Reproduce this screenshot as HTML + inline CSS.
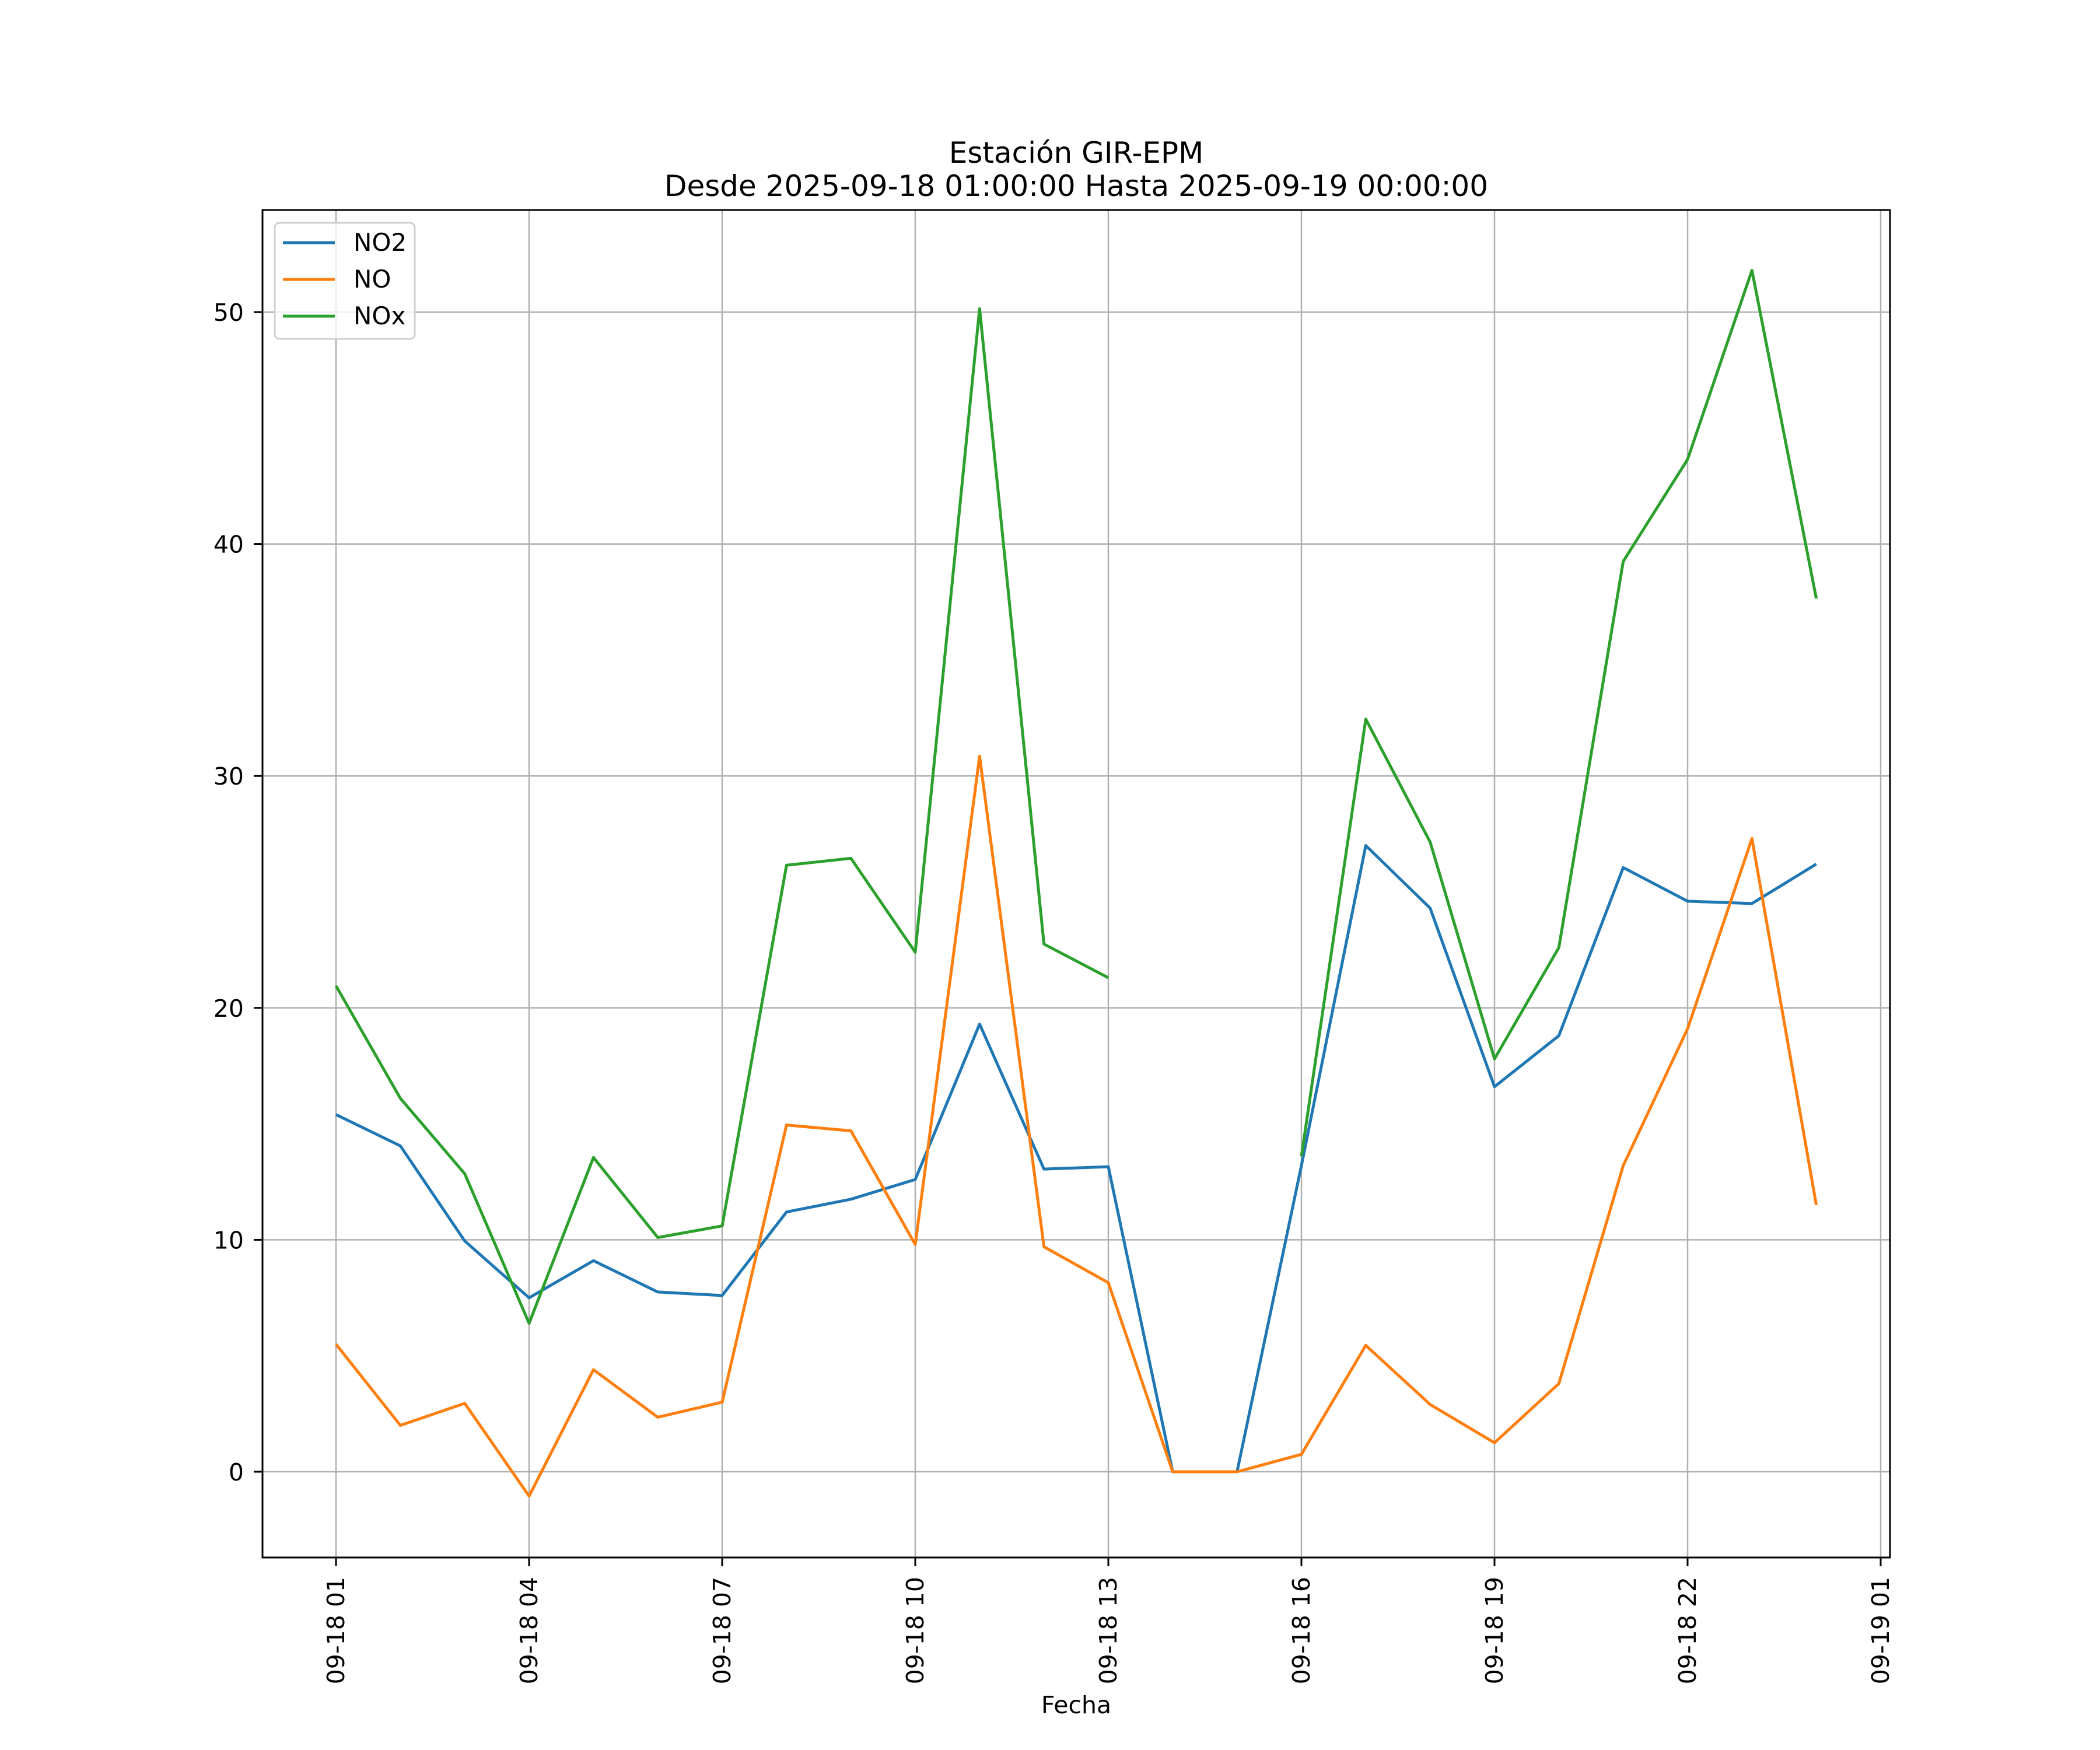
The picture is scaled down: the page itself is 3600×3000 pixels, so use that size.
<!DOCTYPE html>
<html><head><meta charset="utf-8"><style>
html,body{margin:0;padding:0;background:#fff;}
svg{display:block;font-family:"DejaVu Sans","Liberation Sans",sans-serif;}
</style></head><body>
<svg id="chart" width="3600" height="3000" viewBox="0 0 3600 3000" xmlns="http://www.w3.org/2000/svg">
<rect width="3600" height="3000" fill="#fff"/>
<text x="1845" y="279" font-size="50" text-anchor="middle">Estación GIR-EPM</text>
<text x="1845" y="336" font-size="50" text-anchor="middle">Desde 2025-09-18 01:00:00 Hasta 2025-09-19 00:00:00</text>
<g id="grid"></g>
<g id="series"></g>
<rect x="450" y="360" width="2790" height="2310" fill="none" stroke="#000" stroke-width="3"/>
<g id="axes"></g>
<text x="1845" y="2937" font-size="41" text-anchor="middle">Fecha</text>
<g>
<rect x="471" y="382" width="240" height="199" rx="8" fill="#fff" fill-opacity="0.8" stroke="#d0d0d0" stroke-width="3"/>
<g><line x1="485" y1="416" x2="574" y2="416" stroke="#1f77b4" stroke-width="5"/><text x="606" y="430" font-size="42">NO2</text></g>
<g><line x1="485" y1="479" x2="574" y2="479" stroke="#ff7f0e" stroke-width="5"/><text x="606" y="493" font-size="42">NO</text></g>
<g><line x1="485" y1="542" x2="574" y2="542" stroke="#2ca02c" stroke-width="5"/><text x="606" y="556" font-size="42">NOx</text></g>
</g>
</svg>
<script>
const hours = [1,2,3,4,5,6,7,8,9,10,11,12,13,14,15,16,17,18,19,20,21,22,23,24];
const no2 = [15.4,14.05,9.95,7.5,9.1,7.75,7.6,11.2,11.75,12.6,19.3,13.05,13.15,0,0,13.2,27.0,24.3,16.6,18.8,26.05,24.6,24.5,26.2];
const no = [5.5,2.0,2.95,-1.05,4.4,2.35,3.0,14.95,14.7,9.8,30.85,9.7,8.15,0,0,0.75,5.45,2.9,1.25,3.8,13.2,19.1,27.3,11.5];
const nox = [20.95,16.1,12.85,6.4,13.55,10.1,10.6,26.15,26.45,22.4,50.15,22.75,21.3,null,null,13.6,32.45,27.15,17.8,22.6,39.25,43.65,51.8,37.65];
const yTicks = [0,10,20,30,40,50];
const xTickHours = [1,4,7,10,13,16,19,22,25];
const xTickLabels = ["09-18 01","09-18 04","09-18 07","09-18 10","09-18 13","09-18 16","09-18 19","09-18 22","09-19 01"];

const NS="http://www.w3.org/2000/svg";
const X = h => 576 + (h-1)*(3224-576)/24;
const Y = v => 2523 - v*(2523-535)/50;
function mk(tag, attrs, parent){const e=document.createElementNS(NS,tag);for(const k in attrs)e.setAttribute(k,attrs[k]);parent.appendChild(e);return e;}
const grid=document.getElementById('grid'), axes=document.getElementById('axes'), series=document.getElementById('series');
yTicks.forEach(v=>{
  const g=mk('line',{x1:450,x2:3240,y1:Y(v),y2:Y(v),stroke:'#b0b0b0','stroke-width':2.5},grid);
  
  
  mk('line',{x1:435,x2:450,y1:Y(v),y2:Y(v),stroke:'#000','stroke-width':3},axes);
  const t=mk('text',{x:418,y:Y(v)+15,'font-size':41,'text-anchor':'end'},axes);
  t.textContent=v;
  
  
});
xTickHours.forEach((h,i)=>{
  const g=mk('line',{x1:X(h),x2:X(h),y1:360,y2:2670,stroke:'#b0b0b0','stroke-width':2.5},grid);
  
  
  mk('line',{x1:X(h),x2:X(h),y1:2670,y2:2685,stroke:'#000','stroke-width':3},axes);
  const t=mk('text',{x:0,y:0,'font-size':41,'text-anchor':'end',transform:`translate(${X(h)+14},2703) rotate(-90)`},axes);
  t.textContent=xTickLabels[i];
  
  
});
function drawLine(vals,color,name){
  let d='',pen=false;
  vals.forEach((v,i)=>{
    if(v===null){pen=false;return;}
    d+=(pen?'L':'M')+X(hours[i]).toFixed(2)+' '+Y(v).toFixed(2)+' ';pen=true;
  });
  const p=mk('path',{d:d,fill:'none',stroke:color,'stroke-width':5,'stroke-linejoin':'round'},series);
  
  
}
drawLine(no2,'#1f77b4','no2-line');
drawLine(no,'#ff7f0e','no-line');
drawLine(nox,'#2ca02c','nox-line');
</script>
</body></html>
